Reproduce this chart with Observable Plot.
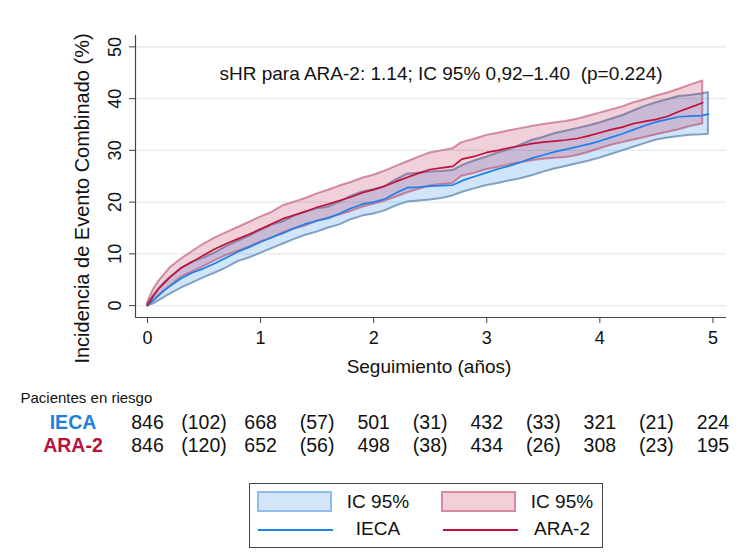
<!DOCTYPE html>
<html><head><meta charset="utf-8">
<script src="https://cdn.jsdelivr.net/npm/d3@7"></script>
<script src="https://cdn.jsdelivr.net/npm/@observablehq/plot@0.6"></script>
<style>
body{margin:0;background:#fff;font-family:"Liberation Sans",Arial,sans-serif;}
#wrap{position:relative;width:750px;height:555px;overflow:hidden;}
#main{position:absolute;left:0;top:0;}
#risk{position:absolute;left:0;top:385px;}
#legend{position:absolute;left:249px;top:483px;width:354px;height:65px;border:1.5px solid #444;box-sizing:border-box;background:#fff;}
#legend .sw{position:absolute;top:7px;width:75px;height:21px;box-sizing:border-box;border:2px solid;}
#legend .ln{position:absolute;top:45px;width:75px;height:0;border-top:2px solid;}
#legend .tx{position:absolute;width:120px;margin-left:-60px;text-align:center;font-size:19px;color:#111;line-height:22px;}
</style>
</head><body>
<div id="wrap">
  <div id="main"></div>
  <div id="risk"></div>
  <div id="legend">
    <div class="sw" style="left:7px;background:#d3e5f8;border-color:#8dbcee;"></div>
    <div class="tx" style="left:128px;top:7px;">IC 95%</div>
    <div class="sw" style="left:191px;background:#f3d0d8;border-color:#d78a9c;"></div>
    <div class="tx" style="left:312px;top:7px;">IC 95%</div>
    <div class="ln" style="left:8px;border-color:#1f80e8;"></div>
    <div class="tx" style="left:128px;top:34px;">IECA</div>
    <div class="ln" style="left:193px;border-color:#c0103c;"></div>
    <div class="tx" style="left:312px;top:34px;">ARA-2</div>
  </div>
</div>
<script>
// ---- Datos ----
const tiempoIECA = [0,0.05,0.1,0.15,0.2,0.3,0.4,0.5,0.6,0.7,0.8,0.9,1.0,1.1,1.2,1.3,1.4,1.5,1.6,1.7,1.8,1.9,2.0,2.1,2.2,2.3,2.4,2.5,2.6,2.7,2.8,2.9,3.0,3.1,3.2,3.3,3.4,3.5,3.6,3.7,3.8,3.9,4.0,4.1,4.2,4.3,4.4,4.5,4.6,4.7,4.8,4.9,4.96];
const incidIECA = [0,1.0,2.0,3.0,3.8,5.3,6.4,7.2,8.2,9.3,10.4,11.3,12.3,13.2,14.0,15.0,15.8,16.4,16.9,17.8,18.8,19.6,20.0,20.6,21.8,22.8,22.9,23.1,23.2,23.3,24.3,25.0,25.7,26.4,27.0,27.7,28.5,29.1,29.7,30.2,30.7,31.2,31.8,32.5,33.2,34.0,34.8,35.5,36.0,36.5,36.6,36.7,37.0];
const infIECA = [0,0.3,0.9,1.6,2.2,3.4,4.4,5.4,6.3,7.3,8.5,9.2,10.1,11.0,11.9,12.8,13.6,14.2,15.0,15.6,16.6,17.3,17.7,18.3,19.3,20.0,20.2,20.4,20.7,21.2,22.0,22.6,23.2,23.6,24.1,24.5,25.1,25.8,26.4,26.9,27.4,27.9,28.5,29.2,29.9,30.6,31.3,32.0,32.4,32.7,32.9,33.0,33.1];
const supIECA = [0.3,1.8,3.2,4.4,5.4,7.2,8.4,9.2,10.2,11.4,12.4,13.4,14.5,15.5,16.2,17.3,18.1,18.7,19.0,20.0,21.1,21.9,22.4,23.0,24.3,25.4,25.6,25.8,25.9,26.1,27.2,28.0,28.7,29.5,30.1,31.0,31.9,32.5,33.2,33.7,34.2,34.7,35.3,36.0,36.7,37.6,38.5,39.2,39.8,40.4,40.6,40.9,41.2];

const tiempoARA = [0,0.05,0.1,0.15,0.2,0.3,0.4,0.5,0.6,0.7,0.8,0.9,1.0,1.1,1.2,1.3,1.4,1.5,1.6,1.7,1.8,1.9,2.0,2.1,2.2,2.3,2.4,2.5,2.6,2.7,2.78,2.9,3.0,3.1,3.2,3.3,3.4,3.5,3.6,3.7,3.8,3.9,4.0,4.1,4.2,4.3,4.4,4.5,4.6,4.7,4.8,4.91];
const incidARA = [0,1.8,3.3,4.4,5.5,7.3,8.5,9.8,11.0,12.0,12.9,13.8,14.8,15.8,16.8,17.5,18.2,19.0,19.6,20.3,21.0,21.8,22.4,23.1,24.0,24.8,25.6,26.3,26.6,26.9,28.3,28.9,29.6,30.0,30.5,30.9,31.3,31.6,31.8,32.0,32.3,32.8,33.4,34.0,34.5,35.2,35.6,36.0,36.6,37.5,38.3,39.2];
const infARA = [0,0.8,1.9,2.8,3.7,5.5,6.5,7.6,8.7,9.7,10.5,11.3,12.3,13.0,14.1,14.8,15.4,16.3,16.9,17.5,18.2,19.0,19.6,20.2,21.0,21.8,22.5,23.1,23.4,23.6,25.0,25.6,26.3,26.7,27.2,27.6,28.0,28.3,28.5,28.6,29.0,29.6,30.3,31.0,31.5,32.0,32.5,33.0,33.5,34.0,34.6,35.1];
const supARA = [0.5,3.0,4.7,6.0,7.3,9.0,10.5,11.9,13.1,14.1,15.1,16.1,17.1,18.0,19.3,20.0,20.7,21.6,22.3,23.1,23.8,24.6,25.2,26.0,26.9,27.8,28.7,29.5,29.9,30.3,31.5,32.2,32.9,33.3,33.8,34.2,34.6,35.0,35.3,35.6,36.0,36.6,37.2,37.8,38.4,39.2,39.8,40.5,41.1,41.8,42.6,43.4];

const yTicks = [0,10,20,30,40,50];
const xTicks = [0,1,2,3,4,5];
const tituloY = "Incidencia de Evento Combinado (%)";
const tituloX = "Seguimiento (años)";
const anotacion = "sHR para ARA-2: 1.14; IC 95% 0,92\u20131.40\u00a0 (p=0.224)";

const grupos = ["IECA","ARA-2"];
const tiemposRiesgo = [0,0.5,1,1.5,2,2.5,3,3.5,4,4.5,5];
const riesgoIECA = ["846","(102)","668","(57)","501","(31)","432","(33)","321","(21)","224"];
const riesgoARA = ["846","(120)","652","(56)","498","(38)","434","(26)","308","(23)","195"];

// ---- Construcción ----
const xDominio = [-0.106, 5.12];
const yDominio = [-2.3, 52.2];
const fuente = '"Liberation Sans", Arial, sans-serif';

const iecaData = tiempoIECA.map((t,i)=>({t, v:incidIECA[i], lo:infIECA[i], hi:supIECA[i]}));
const araData = tiempoARA.map((t,i)=>({t, v:incidARA[i], lo:infARA[i], hi:supARA[i]}));

const main = Plot.plot({
  width: 750, height: 385,
  marginLeft: 135, marginRight: 24, marginTop: 35, marginBottom: 68,
  style: {fontFamily: fuente, fontSize: "19px", color: "#222", background: "white"},
  x: {domain: xDominio},
  y: {domain: yDominio},
  marks: [
    Plot.gridY(yTicks, {stroke: "#e2eaee", strokeOpacity: 1, strokeWidth: 1.3}),
    Plot.areaY(iecaData, {x: "t", y1: "lo", y2: "hi", curve: "linear", fill: "#2a86ea", fillOpacity: 0.22, stroke: "#6f93b8", strokeOpacity: 0.85, strokeWidth: 2}),
    Plot.areaY(araData, {x: "t", y1: "lo", y2: "hi", curve: "linear", fill: "#b5153f", fillOpacity: 0.2, stroke: "#b5405e", strokeOpacity: 0.55, strokeWidth: 2}),
    Plot.lineY(iecaData, {x: "t", y: "v", curve: "linear", stroke: "#1f80e8", strokeWidth: 1.7}),
    Plot.lineY(araData, {x: "t", y: "v", curve: "linear", stroke: "#c0103c", strokeWidth: 1.7}),
    Plot.ruleX([xDominio[0]], {stroke: "#444", strokeWidth: 1.2}),
    Plot.ruleY([yDominio[0]], {stroke: "#444", strokeWidth: 1.2}),
    Plot.axisY(yTicks, {tickSize: 6, tickRotate: -90, tickPadding: 9, fontSize: 18, fill: "#111", stroke: "#444", label: null}),
    Plot.axisX(xTicks, {tickSize: 6, tickPadding: 8, fontSize: 18, fill: "#111", stroke: "#444", label: null}),
    Plot.text([tituloY], {frameAnchor: "left", rotate: -90, dx: -53, dy: 22, fontSize: 20, fill: "#111", textAnchor: "middle"}),
    Plot.text([tituloX], {frameAnchor: "bottom", dx: -2, dy: 49, lineAnchor: "middle", fontSize: 19, fill: "#111", textAnchor: "middle"}),
    Plot.text([anotacion], {frameAnchor: "top", dx: 10, dy: 31, fontSize: 19, fill: "#111"})
  ]
});
document.getElementById("main").appendChild(main);

const tabla = [];
tiemposRiesgo.forEach((t,i)=>{
  tabla.push({t, grupo: "IECA", n: riesgoIECA[i]});
  tabla.push({t, grupo: "ARA-2", n: riesgoARA[i]});
});

const risk = Plot.plot({
  width: 750, height: 75,
  marginLeft: 135, marginRight: 24, marginTop: 0, marginBottom: 0,
  style: {fontFamily: fuente, background: "transparent"},
  x: {domain: xDominio, axis: null},
  y: {type: "point", domain: grupos, range: [37, 60], padding: 0, axis: null},
  marks: [
    Plot.text(tabla, {x: "t", y: "grupo", text: "n", fontSize: 19.5, fill: "#111"}),
    Plot.text(["IECA"], {y: d=>d, text: d=>d, frameAnchor: "left", dx: -62.5, textAnchor: "middle", fill: "#1f7fe0", fontWeight: "bold", fontSize: 19.5}),
    Plot.text(["ARA-2"], {y: d=>d, text: d=>d, frameAnchor: "left", dx: -62.5, textAnchor: "middle", fill: "#b8113d", fontWeight: "bold", fontSize: 19.5}),
    Plot.text(["Pacientes en riesgo"], {frameAnchor: "top-left", dx: -115, dy: 13, lineAnchor: "middle", textAnchor: "start", fontSize: 15, fill: "#111"})
  ]
});
document.getElementById("risk").appendChild(risk);
</script>
</body></html>
